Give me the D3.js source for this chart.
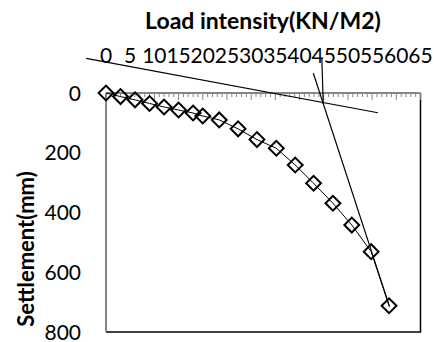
<!DOCTYPE html>
<html><head><meta charset="utf-8">
<script src="https://cdn.jsdelivr.net/npm/d3@7/dist/d3.min.js"></script>
<style>html,body{margin:0;padding:0;background:#fff;}svg{display:block;}</style>
</head><body>
<script>
const load = [0, 3, 6, 9, 12, 15, 18, 20, 23.4, 27.3, 31.2, 35.2, 39.1, 42.9, 46.9, 50.8, 54.8, 58.5];
const settlement = [0, 12, 23, 35, 47, 57, 67, 77, 90, 120, 156, 185, 241, 302, 369, 442, 531, 712];
const xTicks = [0, 5, 10, 15, 20, 25, 30, 35, 40, 45, 50, 55, 60, 65];
const yTicks = [0, 200, 400, 600, 800];
const tangentStart = [[-4.1, -116], [56.2, 66]];
const tangentEnd = [[42.85, -66], [58.6, 715]];
const dropLine = [[44.6, -117], [44.9, 37]];
const xTitle = "Load intensity(KN/M2)";
const yTitle = "Settlement(mm)";

const W = 434, H = 342;
const m = {left: 106, top: 93, right: 420.5, bottom: 332};
const svg = d3.select("body").append("svg").attr("width", W).attr("height", H);
const x = d3.scaleLinear().domain([0, 65]).range([m.left, m.right]);
const y = d3.scaleLinear().domain([0, 800]).range([m.top, m.bottom]);
const font = "Lato, 'Open Sans', sans-serif";

// plot area border (right and bottom)
svg.append("path")
  .attr("d", `M${m.left},${m.bottom}H${m.right}V${m.top}`)
  .attr("fill", "none").attr("stroke", "#000").attr("stroke-width", 1.5);

// x axis at top with minor ticks
const minor = d3.range(0, 66, 1);
svg.append("g").selectAll("line").data(minor).join("line")
  .attr("x1", d => x(d)).attr("x2", d => x(d))
  .attr("y1", m.top).attr("y2", d => m.top + (d % 5 === 0 ? 7 : 4))
  .attr("stroke", "#868686").attr("stroke-width", 1);
svg.append("line").attr("x1", m.left).attr("x2", m.right).attr("y1", m.top).attr("y2", m.top)
  .attr("stroke", "#868686").attr("stroke-width", 2);
svg.append("line").attr("x1", m.left).attr("x2", m.left).attr("y1", m.top).attr("y2", m.bottom)
  .attr("stroke", "#868686").attr("stroke-width", 2);

svg.append("g").selectAll("text").data(xTicks).join("text")
  .attr("x", d => x(d)).attr("y", 63)
  .attr("text-anchor", "middle").attr("font-family", font).attr("font-size", 21)
  .attr("fill", "#000").text(d => d);

svg.append("g").selectAll("text").data(yTicks).join("text")
  .attr("x", 81).attr("y", d => y(d) + 7.5)
  .attr("text-anchor", "end").attr("font-family", font).attr("font-size", 21)
  .attr("fill", "#000").text(d => d);

// titles
svg.append("text").attr("x", 263).attr("y", 29).attr("text-anchor", "middle")
  .attr("font-family", font).attr("font-weight", "bold").attr("font-size", 23).text(xTitle);
svg.append("text").attr("transform", "translate(34,249) rotate(-90)").attr("text-anchor", "middle")
  .attr("font-family", font).attr("font-weight", "bold").attr("font-size", 22).text(yTitle);

const line = d3.line().x(d => x(d[0])).y(d => y(d[1]));
[tangentStart, tangentEnd, dropLine].forEach(seg => {
  svg.append("path").attr("d", line(seg)).attr("fill", "none").attr("stroke", "#000").attr("stroke-width", 1.2);
});

const pts = load.map((d, i) => [d, settlement[i]]);
svg.append("path").attr("d", line(pts)).attr("fill", "none").attr("stroke", "#000").attr("stroke-width", 1);
svg.append("g").selectAll("path").data(pts).join("path")
  .attr("d", d3.symbol(d3.symbolSquare, 110))
  .attr("transform", d => `translate(${x(d[0])},${y(d[1])}) rotate(45)`)
  .attr("fill", "#fff").attr("fill-opacity", 0).attr("stroke", "#000").attr("stroke-width", 2);
</script>
</body></html>
